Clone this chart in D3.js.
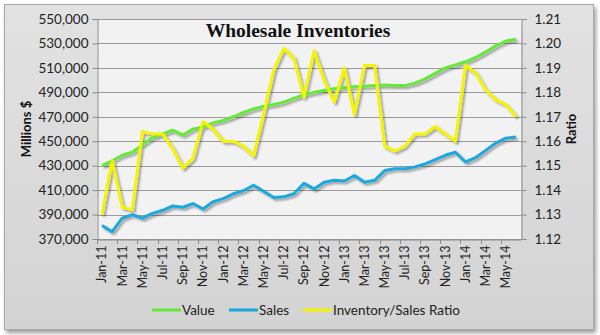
<!DOCTYPE html>
<html><head><meta charset="utf-8">
<script src="https://cdn.jsdelivr.net/npm/d3@7"></script>
<style>
html,body{margin:0;padding:0;background:#fff;}
svg{display:block;}
</style></head>
<body>
<script>
const months = ["Jan-11","Feb-11","Mar-11","Apr-11","May-11","Jun-11","Jul-11","Aug-11","Sep-11","Oct-11","Nov-11","Dec-11",
"Jan-12","Feb-12","Mar-12","Apr-12","May-12","Jun-12","Jul-12","Aug-12","Sep-12","Oct-12","Nov-12","Dec-12",
"Jan-13","Feb-13","Mar-13","Apr-13","May-13","Jun-13","Jul-13","Aug-13","Sep-13","Oct-13","Nov-13","Dec-13",
"Jan-14","Feb-14","Mar-14","Apr-14","May-14","Jun-14"];
const valueSeries = [430000,434000,438500,441000,447000,453000,456000,459000,455000,460000,461500,465000,
467000,470000,473500,476500,478500,480000,482000,485000,488000,490000,491500,493000,
494000,494500,495000,495500,496000,495500,495500,497500,501000,505500,510000,512500,
515000,518500,523000,528000,532000,533500];
const salesSeries = [381000,376000,387000,390000,387000,391000,393500,397000,396000,399000,394500,400500,
403000,407000,409500,414000,409000,404000,404500,407000,415500,411000,416500,418000,
417500,422000,416500,418000,426000,427500,427500,429000,431500,435000,438500,441000,
433000,436500,442500,448500,452500,453500];
const ratioSeries = [1.130,1.152,1.133,1.132,1.164,1.163,1.163,1.157,1.149,1.153,1.168,1.165,
1.160,1.160,1.158,1.154,1.171,1.189,1.198,1.194,1.178,1.197,1.185,1.176,
1.190,1.171,1.191,1.191,1.158,1.156,1.158,1.163,1.163,1.166,1.163,1.160,
1.191,1.188,1.181,1.177,1.175,1.170];
const leftTicks = [370000,390000,410000,430000,450000,470000,490000,510000,530000,550000];
const rightTicks = [1.12,1.13,1.14,1.15,1.16,1.17,1.18,1.19,1.20,1.21];
const seriesNames = ["Value","Sales","Inventory/Sales Ratio"];
const seriesColors = ["#66e83a","#1aa7de","#f4f400"];
const titleText = "Wholesale Inventories";

const W = 600, H = 335;
const L = 97, R = 521, T = 19, B = 239;
const font = "Lato, 'Liberation Sans', sans-serif";

const svg = d3.select("body").append("svg").attr("width", W).attr("height", H);
const defs = svg.append("defs");
const f = defs.append("filter").attr("id","sh").attr("x","-10%").attr("y","-10%").attr("width","130%").attr("height","130%");
f.append("feGaussianBlur").attr("in","SourceAlpha").attr("stdDeviation",1.1).attr("result","b");
f.append("feOffset").attr("in","b").attr("dx",1.5).attr("dy",2).attr("result","o");
f.append("feComponentTransfer").attr("in","o").attr("result","o2").append("feFuncA").attr("type","linear").attr("slope",0.35);
const m = f.append("feMerge"); m.append("feMergeNode").attr("in","o2"); m.append("feMergeNode").attr("in","SourceGraphic");

const pf = defs.append("filter").attr("id","psh").attr("x","-5%").attr("y","-5%").attr("width","110%").attr("height","110%");
pf.append("feGaussianBlur").attr("in","SourceAlpha").attr("stdDeviation",2).attr("result","b");
pf.append("feOffset").attr("in","b").attr("dx",2).attr("dy",3).attr("result","o");
pf.append("feComponentTransfer").attr("in","o").attr("result","o2").append("feFuncA").attr("type","linear").attr("slope",0.4);
const pm = pf.append("feMerge"); pm.append("feMergeNode").attr("in","o2"); pm.append("feMergeNode").attr("in","SourceGraphic");

const g1 = defs.append("linearGradient").attr("id","bg").attr("x1",0).attr("y1",0).attr("x2",0).attr("y2",1);
g1.append("stop").attr("offset","0%").attr("stop-color","#e2e2e2");
g1.append("stop").attr("offset","100%").attr("stop-color","#d3d3d3");

// outer panel
svg.append("rect").attr("x",4.5).attr("y",4.5).attr("width",589).attr("height",325)
  .attr("fill","url(#bg)").attr("stroke","#a8a8a8").attr("filter","url(#psh)");

// plot area
svg.append("rect").attr("x",L).attr("y",T).attr("width",R-L).attr("height",B-T).attr("fill","#f2f2f2");

const x = d3.scaleBand().domain(months).range([L,R]).padding(0);
const yL = d3.scaleLinear().domain([370000,550000]).range([B,T]);
const yR = d3.scaleLinear().domain([1.12,1.21]).range([B,T]);
const cx = d => x(d) + x.bandwidth()/2;

// gridlines
svg.append("g").selectAll("line").data(leftTicks).join("line")
  .attr("x1",L).attr("x2",R).attr("y1",d=>Math.round(yL(d))+0.5).attr("y2",d=>Math.round(yL(d))+0.5)
  .attr("stroke","#9a9a9a").attr("stroke-width",1);

// left axis
const la = svg.append("g").attr("transform",`translate(${L+0.5},0)`)
  .call(d3.axisLeft(yL).tickValues(leftTicks).tickFormat(d3.format(",")).tickSize(5).tickPadding(4));
la.select(".domain").attr("stroke","#8a8a8a");
la.selectAll(".tick line").attr("stroke","#8a8a8a");
la.selectAll("text").attr("font-family",font).attr("font-size",13.5).attr("fill","#222");

// right axis
const ra = svg.append("g").attr("transform",`translate(${R+0.5},0)`)
  .call(d3.axisRight(yR).tickValues(rightTicks).tickFormat(d3.format(".2f")).tickSize(5).tickPadding(8));
ra.select(".domain").attr("stroke","#8a8a8a");
ra.selectAll(".tick line").attr("stroke","#8a8a8a");
ra.selectAll("text").attr("font-family",font).attr("font-size",13.5).attr("fill","#222");

// bottom axis
const labelMonths = months.filter((d,i)=>i%2===0);
const ba = svg.append("g").attr("transform",`translate(0,${B+0.5})`)
  .call(d3.axisBottom(x).tickValues(labelMonths).tickSize(0).tickPadding(0));
ba.select(".domain").attr("stroke","#8a8a8a");
ba.selectAll("text").attr("font-family",font).attr("font-size",12.5).attr("fill","#222")
  .attr("transform","rotate(-90)").attr("text-anchor","end").attr("dy","0.35em").attr("x",-6).attr("y",0);
// boundary tick marks
svg.append("g").selectAll("line").data(labelMonths).join("line")
  .attr("x1",d=>Math.round(x(d))+0.5).attr("x2",d=>Math.round(x(d))+0.5)
  .attr("y1",B).attr("y2",B+5).attr("stroke","#8a8a8a");

// lines
const lineL = d3.line().x((d,i)=>cx(months[i])).y(d=>yL(d));
const lineR = d3.line().x((d,i)=>cx(months[i])).y(d=>yR(d));
const lg = svg.append("g").attr("filter","url(#sh)");
lg.append("path").datum(valueSeries).attr("d",lineL).attr("fill","none").attr("stroke",seriesColors[0]).attr("stroke-width",3).attr("stroke-linejoin","round");
lg.append("path").datum(salesSeries).attr("d",lineL).attr("fill","none").attr("stroke",seriesColors[1]).attr("stroke-width",3).attr("stroke-linejoin","round");
lg.append("path").datum(ratioSeries).attr("d",lineR).attr("fill","none").attr("stroke",seriesColors[2]).attr("stroke-width",3).attr("stroke-linejoin","round");

// title
svg.append("text").attr("x",298).attr("y",37).attr("text-anchor","middle")
  .attr("font-family","'Liberation Serif', 'DejaVu Serif', serif").attr("font-weight","bold").attr("font-size",19.5)
  .attr("fill","#111").text(titleText);

// axis titles
svg.append("text").attr("transform",`translate(31,129) rotate(-90)`).attr("text-anchor","middle")
  .attr("font-family",font).attr("font-weight","bold").attr("font-size",13).attr("fill","#111").text("Millions $");
svg.append("text").attr("transform",`translate(576,129) rotate(-90)`).attr("text-anchor","middle")
  .attr("font-family",font).attr("font-weight","bold").attr("font-size",13).attr("fill","#111").text("Ratio");

// legend
const legX = [152,229,303];
const leg = svg.append("g");
seriesNames.forEach((n,i)=>{
  leg.append("line").attr("x1",legX[i]).attr("x2",legX[i]+29).attr("y1",310).attr("y2",310)
    .attr("stroke",seriesColors[i]).attr("stroke-width",3);
  leg.append("text").attr("x",legX[i]+30).attr("y",310).attr("dy","0.35em")
    .attr("font-family",font).attr("font-size",13.5).attr("fill","#222").text(n);
});
</script>
</body></html>
